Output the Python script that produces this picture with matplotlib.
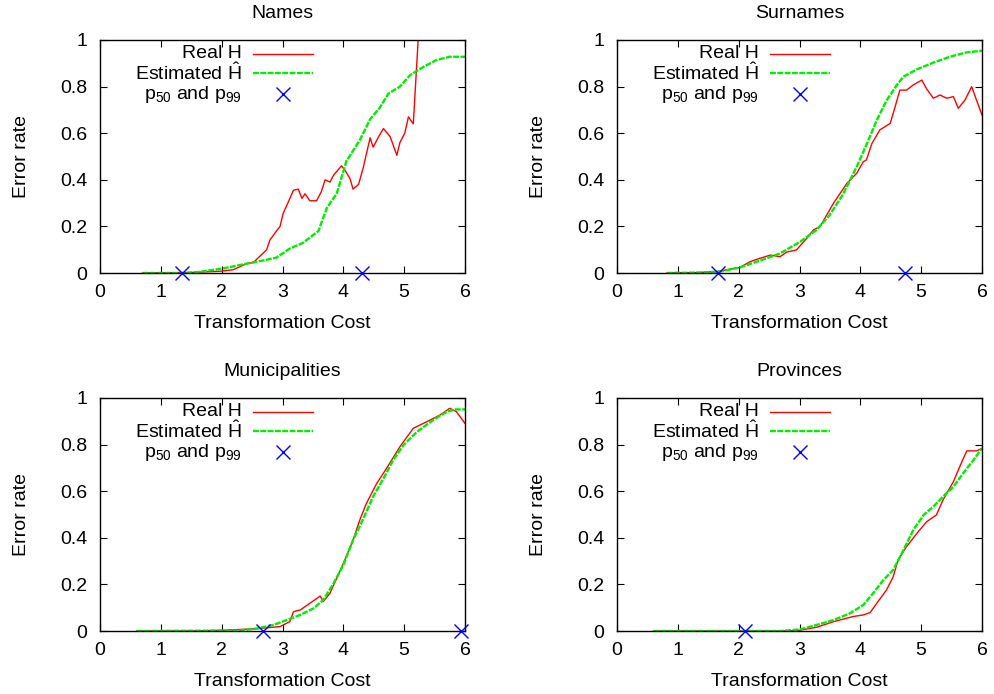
import matplotlib
matplotlib.use("Agg")
import matplotlib.pyplot as plt

plt.rcParams["font.family"] = ["Liberation Sans", "DejaVu Sans"]
plt.rcParams["mathtext.fontset"] = "custom"
plt.rcParams["mathtext.rm"] = "Liberation Sans"
plt.rcParams["mathtext.it"] = "Liberation Sans"

# ---- data ----
titles = ["Names", "Surnames", "Municipalities", "Provinces"]

names_real_x = [0.7, 1.5, 2.0, 2.19, 2.41, 2.52, 2.58, 2.74, 2.79, 2.9, 2.96, 3.01, 3.07, 3.18,
                3.26, 3.32, 3.37, 3.45, 3.56, 3.64, 3.7, 3.78, 3.84, 3.97, 4.03, 4.11, 4.16,
                4.25, 4.33, 4.44, 4.49, 4.58, 4.66, 4.77, 4.88, 4.93, 5.01, 5.07, 5.15, 5.23, 6.0]
names_real_y = [0.0, 0.002, 0.008, 0.014, 0.04, 0.045, 0.06, 0.1, 0.14, 0.18, 0.2, 0.255, 0.29,
                0.355, 0.36, 0.32, 0.34, 0.31, 0.31, 0.35, 0.4, 0.39, 0.42, 0.46, 0.44, 0.405,
                0.36, 0.38, 0.455, 0.58, 0.54, 0.585, 0.62, 0.585, 0.505, 0.56, 0.6, 0.67,
                0.64, 1.0, 1.0]
names_est_x = [0.7, 1.37, 1.64, 2.03, 2.41, 2.74, 2.9, 3.12, 3.34, 3.59, 3.73, 3.89, 4.05,
               4.27, 4.44, 4.6, 4.74, 4.93, 5.1, 5.32, 5.53, 5.75, 6.0]
names_est_y = [0.0, 0.0, 0.005, 0.02, 0.04, 0.057, 0.066, 0.105, 0.13, 0.18, 0.28, 0.34, 0.48,
               0.57, 0.66, 0.71, 0.77, 0.80, 0.85, 0.885, 0.914, 0.928, 0.928]
names_p = [1.35, 4.3]

surn_real_x = [0.82, 1.36, 1.69, 2.02, 2.19, 2.35, 2.52, 2.68, 2.79, 2.95, 3.12, 3.23, 3.34,
               3.56, 3.78, 3.94, 4.05, 4.1, 4.19, 4.32, 4.49, 4.54, 4.65, 4.76, 4.87, 5.01,
               5.09, 5.2, 5.31, 5.42, 5.53, 5.61, 5.72, 5.83, 5.91, 6.0]
surn_real_y = [0.0, 0.002, 0.008, 0.024, 0.049, 0.063, 0.077, 0.07, 0.09, 0.099, 0.149, 0.185,
               0.2, 0.3, 0.385, 0.428, 0.478, 0.485, 0.556, 0.614, 0.642, 0.685, 0.785, 0.785,
               0.807, 0.828, 0.79, 0.75, 0.764, 0.75, 0.757, 0.707, 0.742, 0.8, 0.742, 0.678]
surn_est_x = [0.82, 1.36, 1.69, 2.02, 2.35, 2.68, 3.01, 3.28, 3.5, 3.72, 3.94, 4.1, 4.27, 4.43,
              4.6, 4.71, 4.93, 5.2, 5.47, 5.75, 6.0]
surn_est_y = [0.0, 0.002, 0.006, 0.024, 0.053, 0.084, 0.134, 0.185, 0.25, 0.34, 0.456, 0.55,
              0.656, 0.74, 0.807, 0.843, 0.874, 0.903, 0.928, 0.947, 0.954]
surn_p = [1.66, 4.73]

muni_real_x = [0.6, 1.5, 2.0, 2.58, 2.96, 3.12, 3.18, 3.29, 3.45, 3.62, 3.67, 3.78, 3.89, 4.0,
               4.16, 4.27, 4.38, 4.55, 4.71, 4.93, 5.15, 5.37, 5.59, 5.75, 5.86, 6.0]
muni_real_y = [0.0, 0.0, 0.003, 0.01, 0.019, 0.04, 0.083, 0.09, 0.119, 0.15, 0.126, 0.162,
               0.226, 0.29, 0.39, 0.476, 0.548, 0.634, 0.698, 0.791, 0.87, 0.898, 0.927,
               0.956, 0.941, 0.891]
muni_est_x = [0.6, 2.3, 2.58, 2.85, 3.07, 3.29, 3.51, 3.67, 3.84, 4.0, 4.16, 4.33, 4.49, 4.66,
              4.82, 4.99, 5.21, 5.48, 5.7, 5.84, 6.0]
muni_est_y = [0.0, 0.002, 0.011, 0.026, 0.047, 0.069, 0.097, 0.133, 0.205, 0.283, 0.39, 0.483,
              0.577, 0.655, 0.734, 0.798, 0.855, 0.906, 0.941, 0.951, 0.951]
muni_p = [2.68, 5.93]

prov_real_x = [0.6, 2.8, 3.0, 3.28, 3.56, 3.88, 4.05, 4.16, 4.27, 4.43, 4.54, 4.62, 4.76, 4.93,
               5.09, 5.25, 5.36, 5.53, 5.67, 5.75, 5.91, 6.0]
prov_real_y = [0.0, 0.0, 0.003, 0.016, 0.04, 0.062, 0.069, 0.079, 0.119, 0.176, 0.233, 0.305,
               0.362, 0.419, 0.469, 0.498, 0.563, 0.641, 0.727, 0.773, 0.773, 0.784]
prov_est_x = [0.6, 2.7, 3.01, 3.28, 3.56, 3.83, 4.05, 4.21, 4.38, 4.54, 4.71, 4.87, 5.04, 5.2,
              5.36, 5.53, 5.69, 5.86, 6.0]
prov_est_y = [0.0, 0.0, 0.007, 0.026, 0.047, 0.076, 0.112, 0.162, 0.219, 0.262, 0.348, 0.433,
              0.498, 0.534, 0.577, 0.619, 0.677, 0.734, 0.784]
prov_p = [2.1]

panels = [
    (names_real_x, names_real_y, names_est_x, names_est_y, names_p),
    (surn_real_x, surn_real_y, surn_est_x, surn_est_y, surn_p),
    (muni_real_x, muni_real_y, muni_est_x, muni_est_y, muni_p),
    (prov_real_x, prov_real_y, prov_est_x, prov_est_y, prov_p),
]

RED = "#ff0000"
GREEN = "#00ee00"
BLUE = "#0000ff"
FS = 14
GDASH = (2.5, 0.6)

fig = plt.figure(figsize=(9.94, 6.94), dpi=100)
w, h = 365 / 994, 233 / 694
rects = [(100 / 994, 1 - 273 / 694), (617 / 994, 1 - 273 / 694),
         (100 / 994, 1 - 631 / 694), (617 / 994, 1 - 631 / 694)]

for (l, b), title, (rx, ry, ex, ey, px) in zip(rects, titles, panels):
    ax = fig.add_axes([l, b, w, h])
    ax.plot(rx, ry, color=RED, lw=1.0)
    ax.plot(ex, ey, color=GREEN, lw=1.7, dashes=GDASH)
    ax.plot(px, [0] * len(px), "x", color=BLUE, ms=10, mew=1.0, clip_on=False, zorder=5)

    ax.set_xlim(0, 6)
    ax.set_ylim(0, 1)
    ax.set_xticks(range(7))
    ax.set_yticks([0, 0.2, 0.4, 0.6, 0.8, 1])
    ax.set_yticklabels(["0", "0.2", "0.4", "0.6", "0.8", "1"])
    ax.tick_params(direction="in", length=5, top=True, right=True, labelsize=FS)
    ax.tick_params(axis="x", pad=8)
    ax.tick_params(axis="y", pad=9)
    ax.set_title(title, fontsize=FS, pad=16)
    ax.set_xlabel("Transformation Cost", fontsize=FS, labelpad=10)
    ax.set_ylabel("Error rate", fontsize=FS, labelpad=22)
    for s in ax.spines.values():
        s.set_linewidth(1.0)

    # gnuplot style key
    tx, l0, l1, mx = 0.388, 0.419, 0.584, 0.501
    rows = [0.94, 0.858, 0.768]
    ax.text(tx, rows[0], "Real H", transform=ax.transAxes, ha="right", va="center", fontsize=FS)
    ax.text(tx, rows[1], r"Estimated $\hat{\mathrm{H}}$", transform=ax.transAxes, ha="right",
            va="center", fontsize=FS)
    ax.text(tx, rows[2], "p$_{50}$ and p$_{99}$", transform=ax.transAxes, ha="right",
            va="center", fontsize=FS)
    ax.plot([l0, l1], [rows[0]] * 2, color=RED, lw=1.0, transform=ax.transAxes)
    ax.plot([l0, l1], [rows[1]] * 2, color=GREEN, lw=1.7, dashes=GDASH, transform=ax.transAxes)
    ax.plot([mx], [rows[2]], "x", color=BLUE, ms=10, mew=1.0, transform=ax.transAxes)

fig.savefig("out.png", dpi=100)
